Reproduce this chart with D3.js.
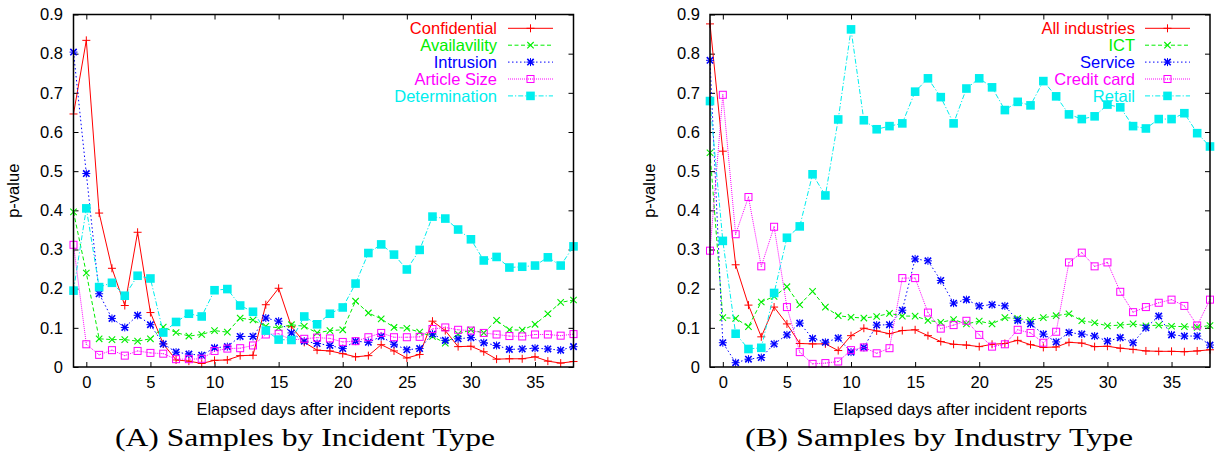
<!DOCTYPE html>
<html>
<head>
<meta charset="utf-8">
<script src="https://cdn.jsdelivr.net/npm/d3@7"></script>
<style>
  html, body { margin: 0; padding: 0; background: #fff; }
  svg { display: block; }
  text { font-family: "Liberation Sans", Arial, sans-serif; }
  text.caption { font-family: "Liberation Serif", "DejaVu Serif", serif; }
</style>
</head>
<body>
<svg id="chart" width="1219" height="463"></svg>
<script>
// Elapsed days after the incident report
const days = [-1, 0, 1, 2, 3, 4, 5, 6, 7, 8, 9, 10, 11, 12, 13, 14, 15, 16, 17, 18, 19,
  20, 21, 22, 23, 24, 25, 26, 27, 28, 29, 30, 31, 32, 33, 34, 35, 36, 37, 38];

const yTicks = [0, 0.1, 0.2, 0.3, 0.4, 0.5, 0.6, 0.7, 0.8, 0.9];
const xTicks = [0, 5, 10, 15, 20, 25, 30, 35];

// (A) samples by incident type
const confidential = [0.646, 0.834, 0.393, 0.252, 0.157, 0.344, 0.139, 0.059, 0.018, 0.015, 0.009, 0.017, 0.018, 0.029, 0.030, 0.159, 0.201, 0.103, 0.063, 0.043, 0.041, 0.034, 0.026, 0.029, 0.057, 0.041, 0.023, 0.032, 0.117, 0.093, 0.052, 0.053, 0.039, 0.020, 0.021, 0.021, 0.026, 0.015, 0.010, 0.014];
const availavility = [0.396, 0.240, 0.072, 0.070, 0.070, 0.066, 0.072, 0.102, 0.088, 0.079, 0.083, 0.093, 0.089, 0.125, 0.120, 0.104, 0.100, 0.108, 0.104, 0.087, 0.093, 0.095, 0.168, 0.138, 0.123, 0.101, 0.099, 0.089, 0.078, 0.061, 0.084, 0.095, 0.087, 0.119, 0.095, 0.094, 0.109, 0.136, 0.165, 0.171];
const intrusion = [0.804, 0.494, 0.187, 0.124, 0.101, 0.132, 0.108, 0.059, 0.038, 0.033, 0.030, 0.049, 0.052, 0.078, 0.078, 0.125, 0.117, 0.087, 0.066, 0.060, 0.055, 0.047, 0.066, 0.063, 0.078, 0.058, 0.044, 0.047, 0.084, 0.068, 0.072, 0.075, 0.062, 0.055, 0.045, 0.046, 0.048, 0.046, 0.043, 0.052];
const articleSize = [0.312, 0.058, 0.031, 0.043, 0.029, 0.041, 0.036, 0.034, 0.020, 0.020, 0.021, 0.041, 0.047, 0.048, 0.055, 0.083, 0.085, 0.069, 0.072, 0.075, 0.073, 0.064, 0.066, 0.076, 0.087, 0.076, 0.076, 0.077, 0.097, 0.101, 0.095, 0.093, 0.087, 0.083, 0.079, 0.078, 0.083, 0.083, 0.080, 0.084];
const determination = [0.195, 0.405, 0.204, 0.215, 0.182, 0.233, 0.226, 0.088, 0.115, 0.136, 0.129, 0.196, 0.199, 0.157, 0.141, 0.093, 0.070, 0.069, 0.129, 0.109, 0.136, 0.152, 0.213, 0.291, 0.313, 0.287, 0.249, 0.299, 0.384, 0.379, 0.351, 0.326, 0.272, 0.281, 0.254, 0.256, 0.259, 0.280, 0.259, 0.308];

// (B) samples by industry type
const allIndustries = [0.876, 0.551, 0.261, 0.158, 0.077, 0.153, 0.110, 0.060, 0.059, 0.059, 0.042, 0.080, 0.099, 0.092, 0.085, 0.093, 0.095, 0.080, 0.065, 0.058, 0.056, 0.052, 0.058, 0.060, 0.068, 0.057, 0.050, 0.051, 0.063, 0.061, 0.052, 0.053, 0.048, 0.045, 0.041, 0.040, 0.040, 0.039, 0.041, 0.044];
const ict = [0.547, 0.126, 0.124, 0.103, 0.166, 0.180, 0.205, 0.159, 0.193, 0.153, 0.131, 0.127, 0.125, 0.129, 0.137, 0.130, 0.130, 0.119, 0.114, 0.121, 0.110, 0.117, 0.110, 0.126, 0.124, 0.119, 0.126, 0.131, 0.136, 0.118, 0.113, 0.105, 0.107, 0.110, 0.105, 0.107, 0.104, 0.103, 0.101, 0.106];
const service = [0.783, 0.062, 0.011, 0.020, 0.024, 0.059, 0.082, 0.112, 0.073, 0.063, 0.074, 0.038, 0.050, 0.107, 0.108, 0.145, 0.276, 0.271, 0.221, 0.163, 0.172, 0.156, 0.159, 0.156, 0.119, 0.110, 0.084, 0.064, 0.088, 0.084, 0.079, 0.066, 0.075, 0.062, 0.100, 0.130, 0.082, 0.079, 0.079, 0.056];
const creditCard = [0.297, 0.695, 0.339, 0.434, 0.257, 0.358, 0.153, 0.038, 0.008, 0.010, 0.014, 0.043, 0.050, 0.035, 0.048, 0.227, 0.227, 0.139, 0.098, 0.107, 0.118, 0.082, 0.052, 0.058, 0.095, 0.087, 0.062, 0.090, 0.267, 0.292, 0.257, 0.267, 0.192, 0.140, 0.153, 0.164, 0.172, 0.156, 0.106, 0.172];
const retail = [0.679, 0.322, 0.085, 0.046, 0.049, 0.189, 0.330, 0.359, 0.492, 0.438, 0.632, 0.862, 0.630, 0.607, 0.615, 0.622, 0.703, 0.737, 0.689, 0.622, 0.711, 0.737, 0.714, 0.656, 0.677, 0.668, 0.730, 0.691, 0.645, 0.633, 0.640, 0.670, 0.663, 0.615, 0.609, 0.633, 0.633, 0.648, 0.597, 0.563];

// gnuplot-like line types: colour, dash pattern, point type
const lineTypes = [
  { color: "#ff0000", dash: null,        marker: "plus" },
  { color: "#00ee00", dash: "4,2.5",     marker: "cross" },
  { color: "#0000ff", dash: "1.5,2.5",   marker: "star" },
  { color: "#ff00ff", dash: "1,1",       marker: "box" },
  { color: "#00eeee", dash: "5,2,1.2,2", marker: "fbox" }
];

const panels = [
  {
    left: 73.5, right: 573.5,
    tickLabelX: 63, yLabelX: 19,
    caption: "(A) Samples by Incident Type", captionX: 305, captionW: 380,
    legendTextX: 497, legendLine: [508, 553],
    series: [
      { name: "Confidential", values: confidential },
      { name: "Availavility", values: availavility },
      { name: "Intrusion", values: intrusion },
      { name: "Article Size", values: articleSize },
      { name: "Determination", values: determination }
    ]
  },
  {
    left: 710, right: 1210,
    tickLabelX: 700, yLabelX: 655,
    caption: "(B) Samples by Industry Type", captionX: 939, captionW: 388,
    legendTextX: 1135, legendLine: [1145, 1190],
    series: [
      { name: "All industries", values: allIndustries },
      { name: "ICT", values: ict },
      { name: "Service", values: service },
      { name: "Credit card", values: creditCard },
      { name: "Retail", values: retail }
    ]
  }
];

const plotTop = 14.5, plotBottom = 367;
const fontSize = 16.5;
const svg = d3.select("#chart");

function drawMarker(g, type, color, cx, cy) {
  const m = g.append("g").attr("transform", `translate(${cx},${cy})`);
  if (type === "plus" || type === "star") {
    m.append("path").attr("d", "M-4,0H4M0,-4V4")
      .attr("stroke", color).attr("stroke-width", 1).attr("fill", "none");
  }
  if (type === "cross" || type === "star") {
    m.append("path").attr("d", "M-3.2,-3.2L3.2,3.2M-3.2,3.2L3.2,-3.2")
      .attr("stroke", color).attr("stroke-width", type === "star" ? 1.6 : 1.1).attr("fill", "none");
  }
  if (type === "box") {
    m.append("rect").attr("x", -3.5).attr("y", -3.5).attr("width", 7).attr("height", 7)
      .attr("stroke", color).attr("stroke-width", 1).attr("fill", "none");
    m.append("rect").attr("x", -0.5).attr("y", -0.5).attr("width", 1).attr("height", 1)
      .attr("fill", color);
  }
  if (type === "fbox") {
    m.append("rect").attr("x", -4.3).attr("y", -4.3).attr("width", 8.6).attr("height", 8.6)
      .attr("fill", color);
  }
}

panels.forEach(p => {
  const x = d3.scaleLinear().domain([-1, 38]).range([p.left, p.right]);
  const y = d3.scaleLinear().domain([0, 0.9]).range([plotBottom, plotTop]);
  const g = svg.append("g");

  // axes with inward ticks mirrored on all four sides
  const axL = g.append("g").attr("transform", `translate(${p.left},0)`)
    .call(d3.axisLeft(y).tickValues(yTicks).tickSize(-5).tickPadding(p.left - p.tickLabelX)
      .tickFormat(d => d === 0 ? "0" : d3.format(".1f")(d)));
  const axR = g.append("g").attr("transform", `translate(${p.right},0)`)
    .call(d3.axisRight(y).tickValues(yTicks).tickSize(-5).tickFormat(""));
  const axB = g.append("g").attr("transform", `translate(0,${plotBottom})`)
    .call(d3.axisBottom(x).tickValues(xTicks).tickSize(-5).tickPadding(9));
  const axT = g.append("g").attr("transform", `translate(0,${plotTop})`)
    .call(d3.axisTop(x).tickValues(xTicks).tickSize(-5).tickFormat(""));
  [axL, axR, axB, axT].forEach(a => {
    a.select(".domain").remove();
    a.selectAll("line").attr("stroke", "#000").attr("stroke-width", 1);
    a.selectAll("text").attr("font-size", fontSize).attr("fill", "#000");
  });

  // series
  p.series.forEach((s, i) => {
    const lt = lineTypes[i];
    const pts = days.map((d, k) => [d, s.values[k]]);
    g.append("path")
      .datum(pts)
      .attr("fill", "none")
      .attr("stroke", lt.color)
      .attr("stroke-width", 1)
      .attr("stroke-dasharray", lt.dash)
      .attr("d", d3.line().x(d => x(d[0])).y(d => y(d[1])));
    const mg = g.append("g");
    pts.forEach(d => drawMarker(mg, lt.marker, lt.color, x(d[0]), y(d[1])));

    // legend entry
    const ly = 28.3 + i * 16.9;
    g.append("text")
      .attr("x", p.legendTextX).attr("y", ly + 5.8)
      .attr("text-anchor", "end").attr("font-size", fontSize).attr("fill", lt.color)
      .text(s.name);
    g.append("line")
      .attr("x1", p.legendLine[0]).attr("x2", p.legendLine[1])
      .attr("y1", ly).attr("y2", ly)
      .attr("stroke", lt.color).attr("stroke-width", 1)
      .attr("stroke-dasharray", lt.dash);
    drawMarker(g, lt.marker, lt.color, (p.legendLine[0] + p.legendLine[1]) / 2, ly);
  });

  // frame
  g.append("rect")
    .attr("x", p.left).attr("y", plotTop)
    .attr("width", p.right - p.left).attr("height", plotBottom - plotTop)
    .attr("fill", "none").attr("stroke", "#000").attr("stroke-width", 1.5);

  // axis titles
  g.append("text")
    .attr("transform", `translate(${p.yLabelX},${(plotTop + plotBottom) / 2}) rotate(-90)`)
    .attr("text-anchor", "middle").attr("font-size", fontSize).attr("fill", "#000")
    .text("p-value");
  g.append("text")
    .attr("x", (p.left + p.right) / 2).attr("y", 415)
    .attr("text-anchor", "middle").attr("font-size", fontSize).attr("fill", "#000")
    .text("Elapsed days after incident reports");

  // sub-figure caption
  g.append("text")
    .attr("class", "caption")
    .attr("x", p.captionX).attr("y", 446)
    .attr("text-anchor", "middle")
    .attr("font-size", 26).attr("fill", "#000")
    .attr("textLength", p.captionW).attr("lengthAdjust", "spacingAndGlyphs")
    .text(p.caption);
});
</script>
</body>
</html>
